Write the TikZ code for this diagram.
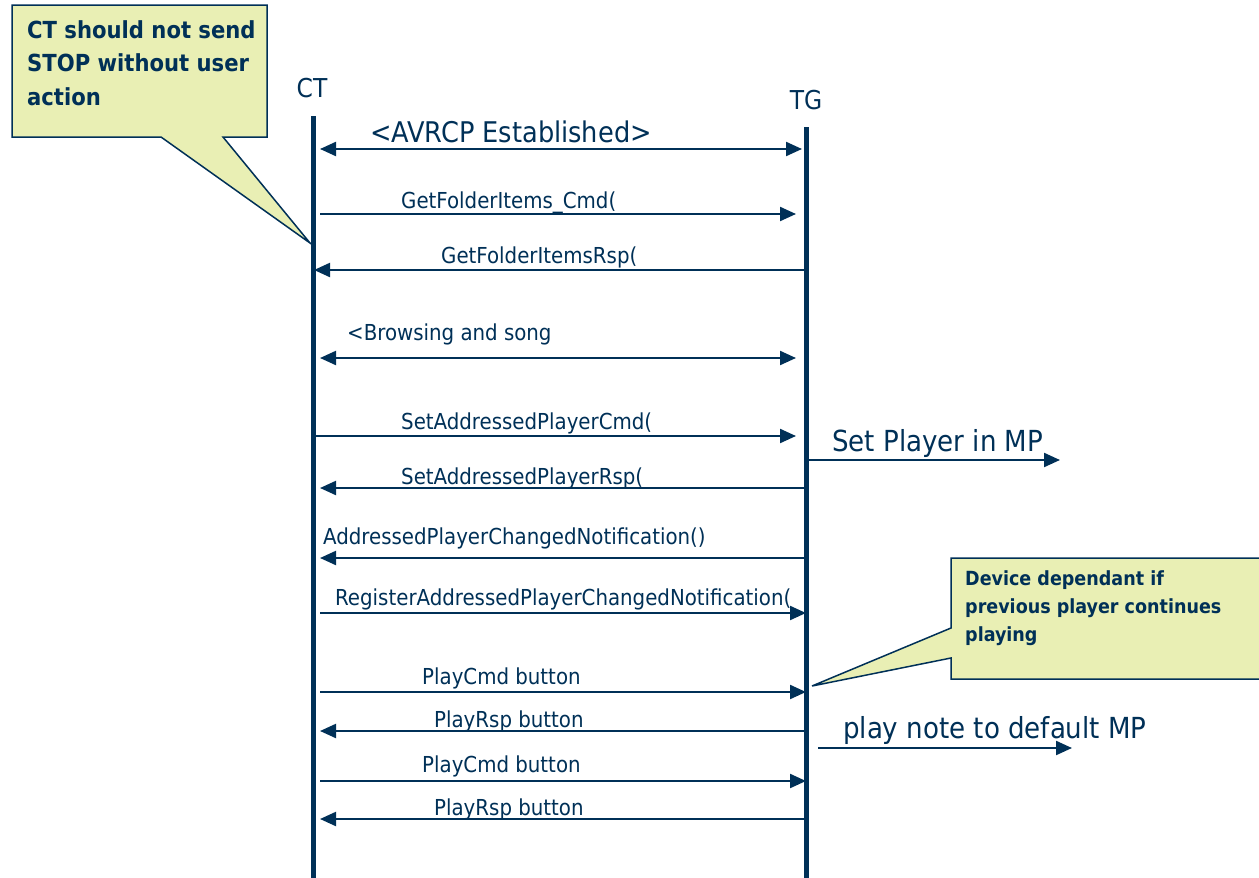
\documentclass[tikz,border=0pt]{standalone}
\usepackage{fontspec}
\setmainfont{DejaVu Sans Condensed}
\usetikzlibrary{arrows.meta}
\definecolor{navy}{HTML}{003057}
\definecolor{notefill}{HTML}{E9EFB4}
\tikzset{
  life/.style={draw=navy, line width=5pt},
  msg/.style={draw=navy, line width=2.2pt, -{Triangle[length=16pt,width=14pt]}},
  both/.style={draw=navy, line width=2.2pt, {Triangle[length=16pt,width=14pt]}-{Triangle[length=16pt,width=14pt]}},
  lbl/.style={anchor=base west, inner sep=0pt, text=navy, font=\fontsize{22}{26}\selectfont},
  biglbl/.style={anchor=base west, inner sep=0pt, text=navy, font=\fontsize{28.5}{32}\selectfont},
  notebox/.style={fill=notefill, draw=navy, line width=1.5pt},
  notetext/.style={anchor=north west, inner sep=0pt, align=left, text=navy}
}
\begin{document}
\begin{tikzpicture}[x=1pt,y=-1pt]
\useasboundingbox (0,0) rectangle (1259,878);
% callouts
\coordinate (tipct) at (310,243);
\coordinate (tiptg) at (812,686);
\path[notebox] (12,5) -- (267,5) -- (267,137) -- (223,137) -- (tipct) -- (161,137) -- (12,137) -- cycle;
\path[notebox] (951,558) -- (1264,558) -- (1264,679) -- (951,679) -- (951,658) -- (tiptg) -- (951,628) -- cycle;
\node[notetext, font=\bfseries\fontsize{23.5}{33.5}\selectfont] (n1) at (27,20) {CT should not send\\STOP without user\\action};
\node[notetext, font=\bfseries\fontsize{19.5}{28}\selectfont] (n2) at (965,570) {Device dependant if\\previous player continues\\playing};
% lifelines
\node[text=navy, font=\fontsize{26}{30}\selectfont, anchor=base] (ct) at (312,97) {CT};
\node[text=navy, font=\fontsize{26}{30}\selectfont, anchor=base] (tg) at (806,109) {TG};
\coordinate (cttop) at (313,116);
\coordinate (ctbot) at (313,878);
\coordinate (tgtop) at (806,127);
\coordinate (tgbot) at (806,878);
\draw[life] (cttop) -- (ctbot);
\draw[life] (tgtop) -- (tgbot);
% message ends
\coordinate (a1) at (320,149); \coordinate (b1) at (802,149);
\coordinate (a2) at (320,214); \coordinate (b2) at (796,214);
\coordinate (a3) at (314,270); \coordinate (b3) at (806,270);
\coordinate (a4) at (320,358); \coordinate (b4) at (796,358);
\coordinate (a5) at (313,436); \coordinate (b5) at (796,436);
\coordinate (a6) at (320,488); \coordinate (b6) at (806,488);
\coordinate (a7) at (320,558); \coordinate (b7) at (806,558);
\coordinate (a8) at (320,613); \coordinate (b8) at (806,613);
\coordinate (a9) at (320,692); \coordinate (b9) at (806,692);
\coordinate (a10) at (320,731); \coordinate (b10) at (806,731);
\coordinate (a11) at (320,781); \coordinate (b11) at (806,781);
\coordinate (a12) at (320,819); \coordinate (b12) at (806,819);
\coordinate (c1) at (808,460); \coordinate (d1) at (1060,460);
\coordinate (c2) at (818,748); \coordinate (d2) at (1072,748);
% labels
\node[biglbl] (l1) at (370,142) {<AVRCP Established>};
\node[lbl] (l2) at (401,208) {GetFolderItems\_Cmd(};
\node[lbl] (l3) at (441,263) {GetFolderItemsRsp(};
\node[lbl] (l4) at (347,340) {<Browsing and song};
\node[lbl] (l5) at (401,429) {SetAddressedPlayerCmd(};
\node[lbl] (l6) at (401,484) {SetAddressedPlayerRsp(};
\node[lbl] (l7) at (323,544) {AddressedPlayerChangedNotification()};
\node[lbl] (l8) at (335,605) {RegisterAddressedPlayerChangedNotification(};
\node[lbl] (l9) at (422,684) {PlayCmd button};
\node[lbl] (l10) at (434,727) {PlayRsp button};
\node[lbl] (l11) at (422,772) {PlayCmd button};
\node[lbl] (l12) at (434,815) {PlayRsp button};
\node[biglbl, font=\fontsize{29}{33}\selectfont] (k1) at (832,451) {Set Player in MP};
\node[biglbl, font=\fontsize{29}{33}\selectfont] (k2) at (843,738) {play note to default MP};
% arrows
\draw[both] (a1) -- (b1);
\draw[msg] (a2) -- (b2);
\draw[msg] (b3) -- (a3);
\draw[both] (a4) -- (b4);
\draw[msg] (a5) -- (b5);
\draw[msg] (b6) -- (a6);
\draw[msg] (b7) -- (a7);
\draw[msg] (a8) -- (b8);
\draw[msg] (a9) -- (b9);
\draw[msg] (b10) -- (a10);
\draw[msg] (a11) -- (b11);
\draw[msg] (b12) -- (a12);
\draw[msg] (c1) -- (d1);
\draw[msg] (c2) -- (d2);
\end{tikzpicture}
\end{document}
